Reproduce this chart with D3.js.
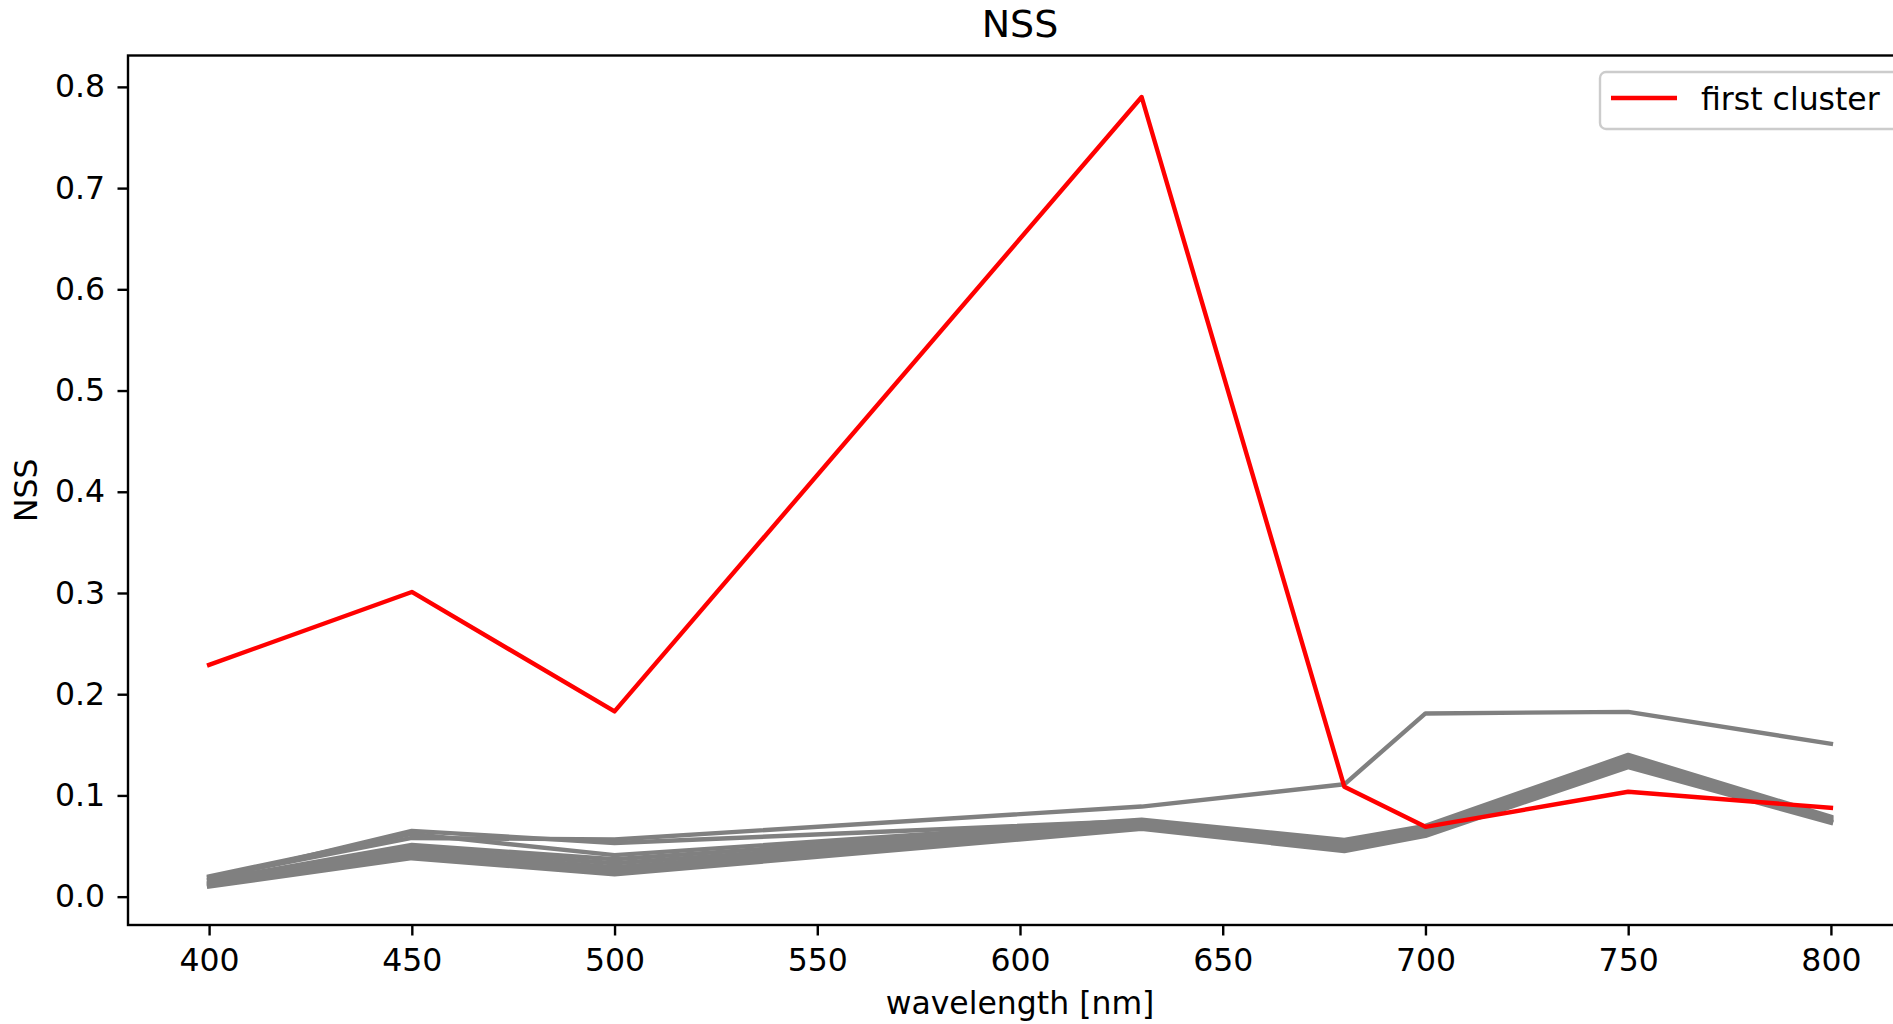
<!DOCTYPE html>
<html>

<head>
  <title>NSS</title>
  <meta charset="utf-8">
  <script src="https://d3js.org/d3.v7.min.js"></script>
  <style type="text/css">
    body {
      margin: 0;
      background: #fff;
    }

    text {
      font-family: "DejaVu Sans", sans-serif;
      fill: #000;
    }

    .axis text {
      font-size: 31.5px;
    }

    .axis line {
      stroke: #000;
      stroke-width: 2.4px;
    }

    .series {
      fill: none;
      stroke-width: 4.4px;
      stroke-linejoin: round;
      stroke-linecap: square;
    }
  </style>
</head>

<body>

  <svg id="chart"></svg>

  <script>
    // data
    var wavelengths = [400, 450, 500, 630, 680, 700, 750, 800];
    var firstCluster = [0.229, 0.301, 0.183, 0.790, 0.1085, 0.069, 0.1036, 0.0878];

    // other clusters (all grey, no legend entry)
    var cluster2 = [0.019, 0.058, 0.0565, 0.089, 0.111, 0.181, 0.1826, 0.151];
    var cluster3 = [0.017, 0.065, 0.053, 0.075, 0.054, 0.062, 0.139, 0.074];
    var cluster4 = [0.020, 0.062, 0.041, 0.076, 0.056, 0.070, 0.140, 0.079];
    var cluster5 = [0.016, 0.051, 0.037, 0.073, 0.052, 0.068, 0.136, 0.078];
    var cluster6 = [0.014, 0.048, 0.033, 0.071, 0.050, 0.066, 0.134, 0.077];
    var cluster7 = [0.013, 0.045, 0.029, 0.070, 0.048, 0.064, 0.132, 0.076];
    var cluster8 = [0.012, 0.042, 0.026, 0.069, 0.047, 0.062, 0.130, 0.075];
    var cluster9 = [0.011, 0.040, 0.024, 0.068, 0.046, 0.061, 0.129, 0.074];
    var cluster10 = [0.010, 0.038, 0.022, 0.067, 0.045, 0.060, 0.128, 0.073];
    var otherClusters = [cluster2, cluster3, cluster4, cluster5, cluster6,
      cluster7, cluster8, cluster9, cluster10];

    var xTicks = [400, 450, 500, 550, 600, 650, 700, 750, 800];
    var yTicks = [0.0, 0.1, 0.2, 0.3, 0.4, 0.5, 0.6, 0.7, 0.8];

    // ① figure and axes box
    var figW = 1893, figH = 1024;
    var box = { left: 128, top: 55.5, right: 1912, bottom: 925 };

    var svg = d3.select("#chart")
      .attr("width", figW)
      .attr("height", figH);

    // ② scales
    var x = d3.scaleLinear()
      .domain([380, 820])
      .range([box.left, box.right]);

    var y = d3.scaleLinear()
      .domain([-0.028, 0.831])
      .range([box.bottom, box.top]);

    // ③ lines
    var line = d3.line()
      .x(function (d, i) { return x(wavelengths[i]); })
      .y(function (d) { return y(d); });

    svg.selectAll(".grey")
      .data(otherClusters)
      .enter().append("path")
      .attr("class", "series grey")
      .attr("stroke", "#808080")
      .attr("d", line);

    svg.append("path")
      .datum(firstCluster)
      .attr("class", "series")
      .attr("stroke", "#ff0000")
      .attr("d", line);

    // ④ axes
    var xAxis = d3.axisBottom(x)
      .tickValues(xTicks)
      .tickFormat(d3.format("d"))
      .tickSizeInner(10.5)
      .tickSizeOuter(0)
      .tickPadding(13);

    svg.append("g")
      .attr("class", "x axis")
      .attr("transform", "translate(0," + box.bottom + ")")
      .call(xAxis)
      .call(function (g) { g.select(".domain").remove(); });

    var yAxis = d3.axisLeft(y)
      .tickValues(yTicks)
      .tickFormat(d3.format(".1f"))
      .tickSizeInner(10.5)
      .tickSizeOuter(0)
      .tickPadding(12.5);

    svg.append("g")
      .attr("class", "y axis")
      .attr("transform", "translate(" + box.left + ",0)")
      .call(yAxis)
      .call(function (g) { g.select(".domain").remove(); });

    svg.selectAll(".axis text").attr("fill", "#000").style("font-family", "DejaVu Sans");

    // spines
    svg.append("rect")
      .attr("x", box.left)
      .attr("y", box.top)
      .attr("width", box.right - box.left)
      .attr("height", box.bottom - box.top)
      .attr("fill", "none")
      .attr("stroke", "#000")
      .attr("stroke-width", 2.4);

    // ⑤ labels
    svg.append("text")
      .attr("x", (box.left + box.right) / 2)
      .attr("y", 37)
      .attr("text-anchor", "middle")
      .style("font-size", "38px")
      .text("NSS");

    svg.append("text")
      .attr("x", (box.left + box.right) / 2)
      .attr("y", 1014)
      .attr("text-anchor", "middle")
      .style("font-size", "31.5px")
      .text("wavelength [nm]");

    svg.append("text")
      .attr("transform", "translate(37," + (box.top + box.bottom) / 2 + ") rotate(-90)")
      .attr("text-anchor", "middle")
      .style("font-size", "31.5px")
      .text("NSS");

    // ⑥ legend
    var legend = svg.append("g").attr("transform", "translate(1600,72)");
    legend.append("rect")
      .attr("width", 298)
      .attr("height", 57)
      .attr("rx", 6)
      .attr("fill", "#fff")
      .attr("fill-opacity", 0.8)
      .attr("stroke", "#cccccc")
      .attr("stroke-width", 2.4);
    legend.append("line")
      .attr("x1", 11).attr("x2", 77)
      .attr("y1", 26).attr("y2", 26)
      .attr("stroke", "#ff0000")
      .attr("stroke-width", 4.4);
    legend.append("text")
      .attr("x", 101)
      .attr("y", 38)
      .style("font-size", "31.5px")
      .text("first cluster");
  </script>
</body>

</html>
